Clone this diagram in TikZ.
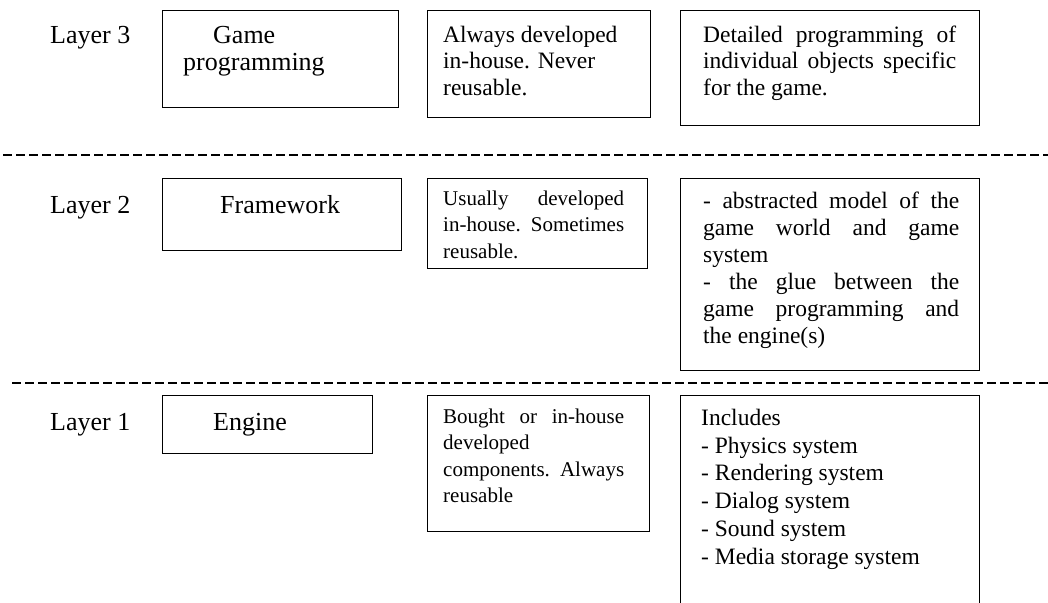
\documentclass[tikz,border=0pt]{standalone}
\usepackage{fontspec}
\setmainfont{Liberation Serif}
\begin{document}
\begin{tikzpicture}[x=1pt,y=-1pt,
  box/.style={draw, line width=1.2pt, inner sep=0pt, anchor=north west},
  sepline/.style={line width=1.1pt, dash pattern=on 9pt off 4pt},
  txt/.style={anchor=north west, inner sep=0pt, align=left},
  big/.style={txt, font=\fontsize{26}{27}\selectfont},
  mid/.style={txt, font=\fontsize{23.5}{26.5}\selectfont},
  rgt/.style={txt, font=\fontsize{23.5}{27}\selectfont},
  inc/.style={txt, font=\fontsize{23.5}{27.8}\selectfont},
  sml/.style={txt, font=\fontsize{21}{26.5}\selectfont}]
\useasboundingbox (0,0) rectangle (1048,602);
\clip (0,0) rectangle (1048,602);

% separators
\coordinate (s1a) at (3,155);
\coordinate (s1b) at (1048,155);
\coordinate (s2a) at (12,383);
\coordinate (s2b) at (1048,383);
\draw[sepline] (s1a) -- (s1b);
\draw[sepline] (s2a) -- (s2b);

% Layer 3
\node[big] (l3) at (50,24.1) {\strut Layer 3};
\node[box, minimum width=236pt, minimum height=97pt] (gp) at (162,10) {};
\node[big] (gpt) at (183,24.1) {\strut\hspace*{30pt}Game\\\strut programming};
\node[box, minimum width=223pt, minimum height=107pt] (al) at (427,10) {};
\node[mid] (alt) at (443,23.45) {\strut Always developed\\\strut in-house. Never\\\strut reusable.};
\node[box, minimum width=299pt, minimum height=115pt] (de) at (680,10) {};
\node[mid] (det) at (703,23.45) {\strut\makebox[253pt][s]{Detailed programming of}\\\strut\makebox[253pt][s]{individual objects specific}\\\strut for the game.};

% Layer 2
\node[big] (l2) at (50,194.1) {\strut Layer 2};
\node[box, minimum width=239pt, minimum height=72pt] (fw) at (162,178) {};
\node[big] (fwt) at (220,194.1) {\strut Framework};
\node[box, minimum width=220pt, minimum height=90pt] (us) at (427,178) {};
\node[sml] (ust) at (443,186.45) {\strut\makebox[181pt][s]{Usually developed}\\\strut\makebox[181pt][s]{in-house. Sometimes}\\\strut reusable.};
\node[box, minimum width=299pt, minimum height=192pt] (ab) at (680,178) {};
\node[rgt] (abt) at (703,189.1) {\strut\makebox[256pt][s]{- abstracted model of the}\\\strut\makebox[256pt][s]{game world and game}\\\strut system\\\strut\makebox[256pt][s]{- the glue between the}\\\strut\makebox[256pt][s]{game programming and}\\\strut the engine(s)};

% Layer 1
\node[big] (l1) at (50,411.1) {\strut Layer 1};
\node[box, minimum width=210pt, minimum height=58pt] (en) at (162,395) {};
\node[big] (ent) at (213,411.1) {\strut Engine};
\node[box, minimum width=222pt, minimum height=136pt] (bo) at (427,395) {};
\node[sml] (bot) at (443,404.45) {\strut\makebox[181pt][s]{Bought or in-house}\\\strut developed\\\strut\makebox[181pt][s]{components. Always}\\\strut reusable};
\node[box, minimum width=299pt, minimum height=240pt] (in) at (680,395) {};
\node[inc] (int) at (701,405.54) {\strut Includes\\\strut - Physics system\\\strut - Rendering system\\\strut - Dialog system\\\strut - Sound system\\\strut - Media storage system};
\end{tikzpicture}
\end{document}
